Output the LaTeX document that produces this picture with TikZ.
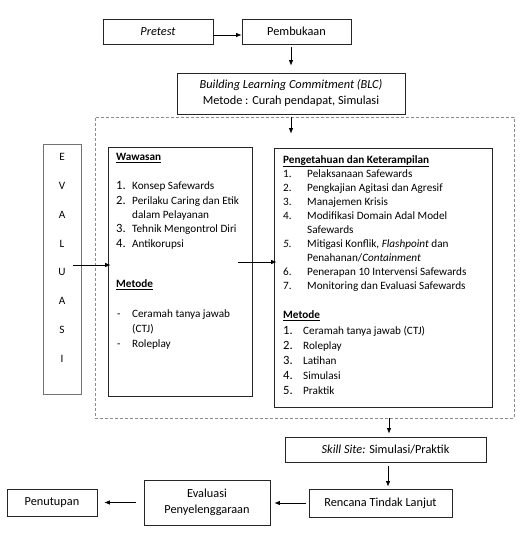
\documentclass[tikz,border=0pt]{standalone}
\usepackage{fontspec}
\setmainfont{Carlito}
\usetikzlibrary{arrows.meta}
\newcommand{\fsOuter}{\fontsize{12.3bp}{15bp}\selectfont}
\newcommand{\fsInner}{\fontsize{11.2bp}{14bp}\selectfont}
\newcommand{\fsNum}{\fontsize{12.6bp}{14bp}\selectfont}
\begin{document}
\begin{tikzpicture}[x=1bp,y=-1bp,
  box/.style={draw=black!85, line width=0.8bp, inner sep=0pt, font=\fsOuter, align=center},
  frame/.style={draw=black!45, line width=0.9bp, dash pattern=on 3bp off 2bp, inner sep=0pt},
  evbox/.style={draw=black!55, line width=0.9bp, inner sep=0pt},
  arr/.style={-{Latex[length=5.5bp,width=4.5bp]}, line width=0.7bp},
  txt/.style={anchor=mid west, inner sep=0pt, font=\fsInner},
  num/.style={anchor=mid west, inner sep=0pt, font=\fsNum},
  letter/.style={anchor=mid, inner sep=0pt, font=\fsInner},
]
\useasboundingbox (0,0) rectangle (530,547);

% top boxes
\node[box, minimum width=110bp, minimum height=25bp] (pre) at (158,31.5) {\itshape Pretest};
\node[box, minimum width=109bp, minimum height=25bp] (pemb) at (296.5,31.5) {Pembukaan};
\node[box, minimum width=228bp, minimum height=41bp] (blc) at (291,93.5)
  {\itshape Building Learning Commitment (BLC)\\[1bp] Metode : Curah pendapat, Simulasi};

% dashed frame
\node[frame, minimum width=419bp, minimum height=301bp] (frame) at (304.5,267.5) {};

% evaluasi column
\node[evbox, minimum width=38bp, minimum height=250bp] (ev) at (62,269) {};
\foreach \l [count=\i from 0] in {E,V,A,L,U,A,S,I}
  \node[letter] (ev\i) at (62,158+28.9*\i) {\l};

% left box
\node[box, minimum width=144bp, minimum height=249bp] (left) at (180,271.5) {};
\node[txt] (w0) at (116,158) {\bfseries\underline{Wawasan}};
\node[num] (wn1) at (116,187) {1.};
\node[txt] (w1) at (132,187) {Konsep Safewards};
\node[num] (wn2) at (116,202) {2.};
\node[txt] (w2) at (132,202) {Perilaku Caring dan Etik};
\node[txt] (w2b) at (132,216) {dalam Pelayanan};
\node[num] (wn3) at (116,230) {3.};
\node[txt] (w3) at (132,230) {Tehnik Mengontrol Diri};
\node[num] (wn4) at (116,245) {4.};
\node[txt] (w4) at (132,245) {Antikorupsi};
\node[txt] (wm) at (116,285) {\bfseries\underline{Metode}};
\node[txt] (wd1) at (117,315) {-};
\node[txt] (wm1) at (132,315) {Ceramah tanya jawab};
\node[txt] (wm1b) at (132,330) {(CTJ)};
\node[txt] (wd2) at (117,345) {-};
\node[txt] (wm2) at (132,345) {Roleplay};

% right box
\node[box, minimum width=218bp, minimum height=259bp] (right) at (383,277.5) {};
\node[txt] (p0) at (283,161) {\bfseries\underline{Pengetahuan dan Keterampilan}};
\node[txt] (pn1) at (283,175) {1.};
\node[txt] (p1) at (307,175) {Pelaksanaan Safewards};
\node[txt] (pn2) at (283,189) {2.};
\node[txt] (p2) at (307,189) {Pengkajian Agitasi dan Agresif};
\node[txt] (pn3) at (283,203) {3.};
\node[txt] (p3) at (307,203) {Manajemen Krisis};
\node[txt] (pn4) at (283,217) {4.};
\node[txt] (p4) at (307,217) {Modifikasi Domain Adal Model};
\node[txt] (p4b) at (307,231) {Safewards};
\node[txt] (pn5) at (283,245) {\itshape 5.};
\node[txt] (p5) at (307,245) {Mitigasi Konflik, \textit{Flashpoint} dan};
\node[txt] (p5b) at (307,259) {Penahanan/\textit{Containment}};
\node[txt] (pn6) at (283,273) {6.};
\node[txt] (p6) at (307,273) {Penerapan 10 Intervensi Safewards};
\node[txt] (pn7) at (283,287) {7.};
\node[txt] (p7) at (307,287) {Monitoring dan Evaluasi Safewards};
\node[txt] (pm) at (283,316) {\bfseries\underline{Metode}};
\node[num] (pmn1) at (283,332) {1.};
\node[txt] (pm1) at (303,332) {Ceramah tanya jawab (CTJ)};
\node[num] (pmn2) at (283,347) {2.};
\node[txt] (pm2) at (303,347) {Roleplay};
\node[num] (pmn3) at (283,362) {3.};
\node[txt] (pm3) at (303,362) {Latihan};
\node[num] (pmn4) at (283,377) {4.};
\node[txt] (pm4) at (303,377) {Simulasi};
\node[num] (pmn5) at (283,392) {5.};
\node[txt] (pm5) at (303,392) {Praktik};

% bottom boxes
\node[box, minimum width=201bp, minimum height=25bp] (skill) at (385.5,449.5) {\textit{Skill Site:} Simulasi/Praktik};
\node[box, minimum width=143bp, minimum height=28bp] (ren) at (380.5,503) {Rencana Tindak Lanjut};
\node[box, minimum width=126bp, minimum height=45bp] (evp) at (207,502.5) {Evaluasi\\[1bp] Penyelenggaraan};
\node[box, minimum width=90bp, minimum height=27bp] (pen) at (52,502.5) {Penutupan};

% helper coordinates
\coordinate (c1) at ([shift={(0,3.5)}]pre.east);
\coordinate (c2) at ([shift={(-8,-4)}]ev.east);
\coordinate (c3) at ([shift={(-14,-9.5)}]left.east);
\coordinate (c4) at ([shift={(3.5,0)}]skill.north);
\coordinate (c5) at ([shift={(2.5,0)}]skill.south);

% connectors
\draw[arr] (c1) -- (pemb.west |- c1);
\draw[arr, shorten <=3bp, shorten >=7bp] (pemb.south -| blc.north) -- (blc.north);
\draw[arr, shorten >=14bp] (frame.north -| blc.south) -- (blc.south |- right.north);
\draw[arr, shorten >=-3bp] (c2) -- (left.west |- c2);
\draw[arr, shorten >=-3bp] (c3) -- (right.west |- c3);
\draw[arr, shorten >=3bp] (frame.south -| c4) -- (c4);
\draw[arr, shorten <=4bp, shorten >=2bp] (c5) -- (ren.north -| c5);
\draw[arr, shorten <=3bp, shorten >=4bp] (ren.west) -- (evp.east |- ren.west);
\draw[arr, shorten <=8bp, shorten >=7bp] (evp.west |- pen.east) -- (pen.east);
\end{tikzpicture}
\end{document}
